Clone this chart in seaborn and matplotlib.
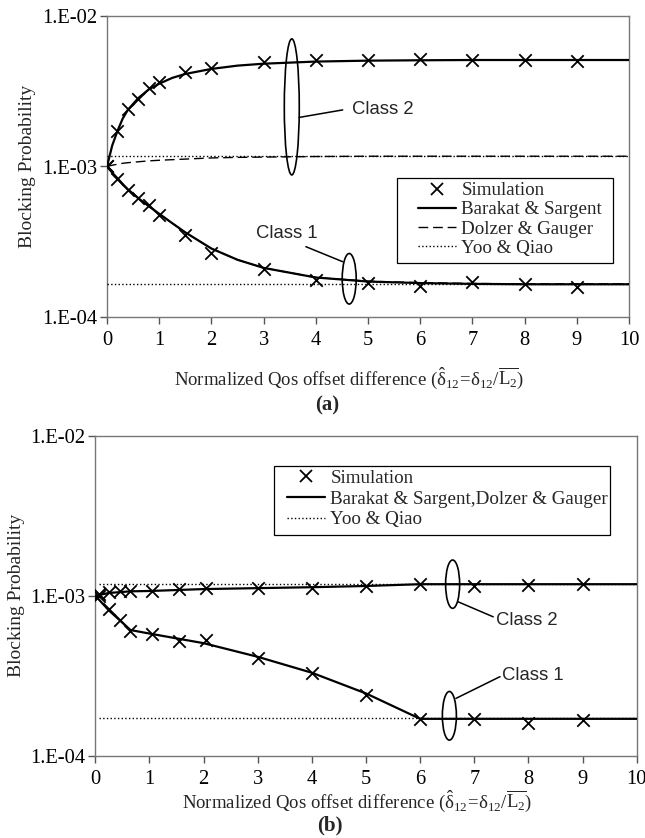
import numpy as np
import pandas as pd
import matplotlib
matplotlib.use('Agg')
import matplotlib.pyplot as plt
import seaborn as sns
from matplotlib.patches import Ellipse, Rectangle
from matplotlib.lines import Line2D
from matplotlib.ticker import FixedLocator, FuncFormatter, NullLocator

# ---- panel (a) data ----
sim_x_a = [0, 0.2, 0.4, 0.6, 0.8, 1, 1.5, 2, 3, 4, 5, 6, 7, 8, 9]
sim_c2_a = [1.0e-3, 1.72e-3, 2.42e-3, 2.83e-3, 3.33e-3, 3.65e-3, 4.25e-3, 4.48e-3,
            4.91e-3, 5.07e-3, 5.07e-3, 5.19e-3, 5.1e-3, 5.1e-3, 5.05e-3]
sim_c1_a = [1.0e-3, 8.28e-4, 7.03e-4, 6.18e-4, 5.52e-4, 4.76e-4, 3.5e-4, 2.68e-4,
            2.1e-4, 1.77e-4, 1.69e-4, 1.61e-4, 1.72e-4, 1.65e-4, 1.59e-4]

model_x_a = [0, 0.1, 0.2, 0.3, 0.4, 0.6, 0.8, 1, 1.25, 1.5, 2, 2.5, 3, 4, 5, 6, 7, 8, 9, 10]
bs_c2_a = [1.0e-3, 1.38e-3, 1.72e-3, 2.08e-3, 2.38e-3, 2.85e-3, 3.25e-3, 3.55e-3, 3.88e-3,
           4.12e-3, 4.45e-3, 4.68e-3, 4.82e-3, 4.98e-3, 5.05e-3, 5.08e-3, 5.1e-3, 5.1e-3,
           5.1e-3, 5.1e-3]
bs_c1_a = [1.0e-3, 9.1e-4, 8.35e-4, 7.65e-4, 7.05e-4, 6.15e-4, 5.45e-4, 4.85e-4, 4.2e-4,
           3.65e-4, 2.85e-4, 2.4e-4, 2.12e-4, 1.83e-4, 1.72e-4, 1.68e-4, 1.66e-4, 1.65e-4,
           1.65e-4, 1.65e-4]
dg_c2_a = [1.0e-3, 1.02e-3, 1.035e-3, 1.05e-3, 1.06e-3, 1.075e-3, 1.09e-3, 1.1e-3, 1.11e-3,
           1.12e-3, 1.14e-3, 1.15e-3, 1.155e-3, 1.165e-3, 1.17e-3, 1.17e-3, 1.17e-3, 1.17e-3,
           1.17e-3, 1.17e-3]
dg_c1_a = [1.0e-3, 9.1e-4, 8.35e-4, 7.65e-4, 7.05e-4, 6.15e-4, 5.45e-4, 4.85e-4, 4.2e-4,
           3.65e-4, 2.85e-4, 2.4e-4, 2.12e-4, 1.83e-4, 1.73e-4, 1.69e-4, 1.67e-4, 1.66e-4,
           1.66e-4, 1.66e-4]
yoo_x_a = [0, 10]
yoo_c2_a = [1.17e-3, 1.17e-3]
yoo_c1_a = [1.66e-4, 1.66e-4]

# ---- panel (b) data ----
sim_x_b = [0.07, 0.25, 0.45, 0.65, 1.05, 1.55, 2.05, 3, 4, 5, 6, 7, 8, 9]
sim_c2_b = [1.025e-3, 1.05e-3, 1.07e-3, 1.07e-3, 1.07e-3, 1.1e-3, 1.12e-3, 1.125e-3,
            1.12e-3, 1.15e-3, 1.18e-3, 1.15e-3, 1.16e-3, 1.19e-3]
sim_c1_b = [1.0e-3, 8.3e-4, 7.05e-4, 6.0e-4, 5.76e-4, 5.23e-4, 5.28e-4, 4.1e-4,
            3.27e-4, 2.39e-4, 1.7e-4, 1.69e-4, 1.61e-4, 1.68e-4]

model_x_b = [0, 0.25, 0.65, 1, 2, 3, 4, 5, 6, 7, 8, 9, 10]
bs_c2_b = [1.0e-3, 1.04e-3, 1.065e-3, 1.07e-3, 1.1e-3, 1.115e-3, 1.13e-3, 1.15e-3,
           1.18e-3, 1.18e-3, 1.18e-3, 1.18e-3, 1.18e-3]
bs_c1_b = [1.0e-3, 8.1e-4, 6.1e-4, 5.8e-4, 5.05e-4, 4.15e-4, 3.3e-4, 2.45e-4,
           1.7e-4, 1.7e-4, 1.7e-4, 1.7e-4, 1.7e-4]
yoo_x_b = [0.07, 10]
yoo_c2_b = [1.18e-3, 1.18e-3]
yoo_c1_b = [1.71e-4, 1.71e-4]

xticks = list(range(0, 11))
ytick_vals = [1e-4, 1e-3, 1e-2]

sns.set_style('ticks')
plt.rcParams['font.family'] = ['Liberation Serif', 'DejaVu Serif']
plt.rcParams['mathtext.fontset'] = 'custom'
plt.rcParams['mathtext.rm'] = 'Liberation Serif'
plt.rcParams['mathtext.it'] = 'Liberation Serif:italic'

PX = 72 / 100  # pixel -> points at dpi 100
fig = plt.figure(figsize=(6.45, 8.38), dpi=100)
ax_a = fig.add_axes([107 / 645, 1 - 317 / 838, 522 / 645, 301 / 838])
ax_b = fig.add_axes([95.3 / 645, 1 - 755.7 / 838, 541.4 / 645, 320 / 838])

xlabel = (r'Normalized Qos offset difference ('
          r'$\mathrm{\hat{\delta}_{12}\!=\!\delta_{12}/\overline{L_2}}$)')


def style_axes(ax):
    ax.set_yscale('log')
    ax.set_xlim(0, 10)
    ax.set_ylim(1e-4, 1e-2)
    ax.xaxis.set_major_locator(FixedLocator(xticks))
    ax.yaxis.set_major_locator(FixedLocator(ytick_vals))
    ax.yaxis.set_minor_locator(NullLocator())
    ax.yaxis.set_major_formatter(FuncFormatter(lambda v, p: '1.E-%02d' % round(-np.log10(v))))
    ax.tick_params(direction='out', length=5, width=1, colors='#555555',
                   labelcolor='black', labelsize=20.5 * PX)
    ax.tick_params(axis='x', pad=5)
    ax.tick_params(axis='y', pad=2)
    for s in ax.spines.values():
        s.set_color('#777777')
        s.set_linewidth(1)
    ax.set_ylabel('Blocking Probability', fontsize=19.5 * PX)


def draw_sim(ax, x, y):
    sns.scatterplot(x=x, y=y, ax=ax, marker='x', color='black', s=80, linewidth=1.3,
                    zorder=4, legend=False)


def draw_line(ax, x, y, ls, lw):
    sns.lineplot(x=x, y=y, ax=ax, color='black', linestyle=ls, linewidth=lw,
                 zorder=3, legend=False)


def class_note(ax, ell, line, text_xy, text, ha='left'):
    ax.add_patch(Ellipse(ell[:2], ell[2], ell[3], transform=ax.transAxes,
                         fill=False, ec='black', lw=1.2, zorder=6))
    ax.add_line(Line2D(line[0], line[1], transform=ax.transAxes, color='black', lw=1.1,
                       zorder=6))
    ax.text(text_xy[0], text_xy[1], text, transform=ax.transAxes, ha=ha, va='center',
            fontsize=18.5 * PX, family=['Liberation Sans', 'DejaVu Sans'])


def boxed_legend(ax, handles, labels, box, anchor, spacing):
    x0, y0, x1, y1 = box
    ax.add_patch(Rectangle((x0, y0), x1 - x0, y1 - y0, transform=ax.transAxes,
                           facecolor='white', edgecolor='black', lw=0.9, zorder=7))
    leg = ax.legend(handles, labels, loc='upper left', bbox_to_anchor=anchor,
                    fontsize=19 * PX, frameon=False, borderaxespad=0, borderpad=0,
                    labelspacing=spacing, handlelength=2.02, handletextpad=0.26)
    leg.set_zorder(8)


# ---------------- panel (a) ----------------
ax = ax_a
style_axes(ax)
draw_line(ax, yoo_x_a, yoo_c2_a, ':', 1.0)
draw_line(ax, yoo_x_a, yoo_c1_a, ':', 1.0)
draw_line(ax, model_x_a, dg_c2_a, (0, (7, 3.5)), 1.0)
draw_line(ax, model_x_a, dg_c1_a, (0, (7, 3.5)), 1.0)
draw_line(ax, model_x_a, bs_c2_a, '-', 1.6)
draw_line(ax, model_x_a, bs_c1_a, '-', 1.6)
draw_sim(ax, sim_x_a, sim_c2_a)
draw_sim(ax, sim_x_a, sim_c1_a)
ax.yaxis.set_label_coords(-0.136, 0.5)
ax.set_xlabel(xlabel, fontsize=18.8 * PX)
ax.xaxis.set_label_coords(0.463, -0.16)

class_note(ax, (0.354, 0.698, 0.0287, 0.452), ([0.368, 0.4515], [0.663, 0.688]),
           (0.469, 0.688), 'Class 2')
class_note(ax, (0.464, 0.127, 0.0268, 0.168), ([0.381, 0.4515], [0.2336, 0.1837]),
           (0.344, 0.279), 'Class 1', ha='center')

handles_a = [Line2D([], [], color='black', marker='x', ls='none', ms=8.5, mew=1.3),
             Line2D([], [], color='black', ls='-', lw=1.6),
             Line2D([], [], color='black', ls=(0, (7, 3.5)), lw=1.0),
             Line2D([], [], color='black', ls=':', lw=1.0)]
labels_a = ['Simulation', 'Barakat & Sargent', 'Dolzer & Gauger', 'Yoo & Qiao']
boxed_legend(ax, handles_a, labels_a, (0.555, 0.178, 0.969, 0.461), (0.596, 0.449), 0.1)

# ---------------- panel (b) ----------------
ax = ax_b
style_axes(ax)
draw_line(ax, yoo_x_b, yoo_c2_b, ':', 1.0)
draw_line(ax, yoo_x_b, yoo_c1_b, ':', 1.0)
draw_line(ax, model_x_b, bs_c2_b, '-', 1.6)
draw_line(ax, model_x_b, bs_c1_b, '-', 1.6)
draw_sim(ax, sim_x_b, sim_c2_b)
draw_sim(ax, sim_x_b, sim_c1_b)
ax.yaxis.set_label_coords(-0.130, 0.5)
ax.set_xlabel(xlabel, fontsize=18.8 * PX)
ax.xaxis.set_label_coords(0.483, -0.103)

class_note(ax, (0.660, 0.536, 0.0259, 0.151), ([0.670, 0.735], [0.481, 0.434]),
           (0.740, 0.421), 'Class 2')
class_note(ax, (0.654, 0.1247, 0.0259, 0.152), ([0.666, 0.7475], [0.179, 0.247]),
           (0.752, 0.252), 'Class 1')

handles_b = [handles_a[0], handles_a[1], handles_a[3]]
labels_b = ['Simulation', 'Barakat & Sargent,Dolzer & Gauger', 'Yoo & Qiao']
boxed_legend(ax, handles_b, labels_b, (0.330, 0.690, 0.9507, 0.906), (0.354, 0.8934), 0.17)

fig.text(327 / 645, 1 - 405 / 838, '(a)', ha='center', va='center',
         fontsize=21 * PX, fontweight='bold')
fig.text(330 / 645, 1 - 825 / 838, '(b)', ha='center', va='center',
         fontsize=21 * PX, fontweight='bold')

fig.savefig('out.png', dpi=100)
